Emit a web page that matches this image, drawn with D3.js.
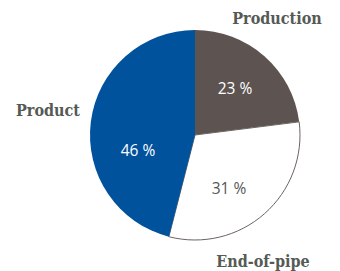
<!DOCTYPE html>
<html><head><meta charset="utf-8">
<script src="https://cdn.jsdelivr.net/npm/d3@7"></script>
<style>html,body{margin:0;padding:0;background:#fff;}svg{display:block;}</style>
</head><body>
<svg id="chart" width="340" height="271"></svg>
<script>
const categories = ["Production", "End-of-pipe", "Product"];
const values = [23, 31, 46];
const valueLabels = ["23 %", "31 %", "46 %"];
const colors = ["#5d5451", "#ffffff", "#00529c"];
const pctColors = ["#ffffff", "#555555", "#ffffff"];

const svg = d3.select("#chart");
const cx = 195, cy = 135, R = 105;
const g = svg.append("g").attr("transform", `translate(${cx},${cy})`);

const pie = d3.pie().sort(null).value(d => d);
const arcs = pie(values);
const arc = d3.arc().innerRadius(0).outerRadius(R);

g.selectAll("path").data(arcs).enter().append("path")
  .attr("d", arc)
  .attr("fill", (d, i) => colors[i])
  .attr("stroke", (d, i) => i === 1 ? "#6b6361" : "none")
  .attr("stroke-width", 1);

// percentage labels (offsets from centre)
const pctPos = [[40, -47], [34, 53], [-57, 15]];
g.selectAll("text.pct").data(arcs).enter().append("text")
  .attr("class", "pct")
  .attr("x", (d, i) => pctPos[i][0])
  .attr("y", (d, i) => pctPos[i][1])
  .attr("text-anchor", "middle")
  .attr("dominant-baseline", "central")
  .attr("font-family", "'Open Sans', sans-serif")
  .attr("font-weight", 400)
  .attr("font-size", 15.5)
  .attr("fill", (d, i) => pctColors[i])
  .text((d, i) => valueLabels[i]);

// category labels
const catPos = [[82, -117], [68, 126], [-147, -25]];
g.selectAll("text.cat").data(categories).enter().append("text")
  .attr("class", "cat")
  .attr("x", (d, i) => catPos[i][0])
  .attr("y", (d, i) => catPos[i][1])
  .attr("text-anchor", "middle")
  .attr("dominant-baseline", "central")
  .attr("font-family", "'DejaVu Serif Condensed', 'DejaVu Serif', serif")
  .attr("font-weight", "bold")
  .attr("font-stretch", "condensed")
  .attr("font-size", 16)
  .attr("fill", "#555a55")
  .text(d => d);
</script>
</body></html>
